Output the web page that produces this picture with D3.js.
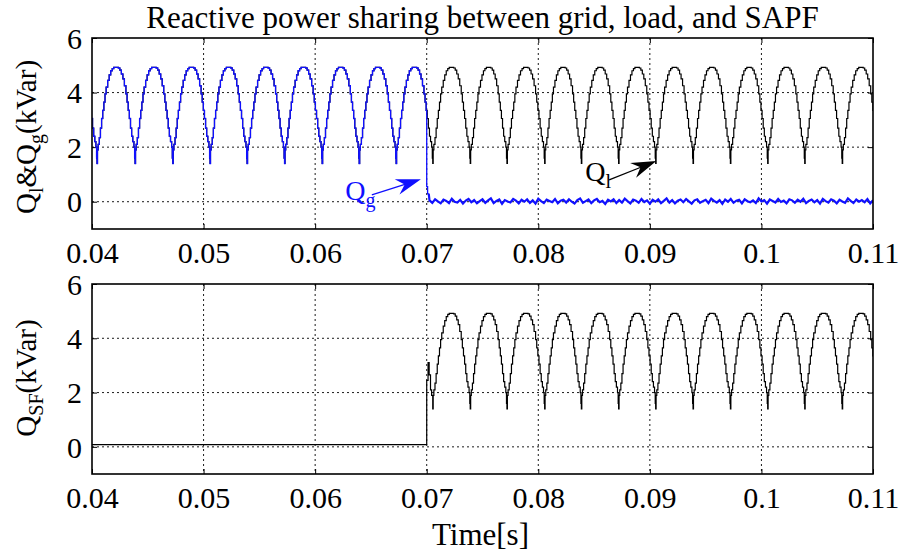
<!DOCTYPE html>
<html><head><meta charset="utf-8">
<script src="https://cdn.jsdelivr.net/npm/d3@7"></script>
<style>
body{margin:0;background:#fff}
svg{display:block}
text{font-family:"Liberation Serif","Times New Roman",serif;fill:#000}
</style>
</head><body>
<svg id="c" width="902" height="557"></svg>
<script>
// ---------- data ----------
const xTicks = [0.04, 0.05, 0.06, 0.07, 0.08, 0.09, 0.1, 0.11];
const xTickLabels = ["0.04", "0.05", "0.06", "0.07", "0.08", "0.09", "0.1", "0.11"];
const yTicks = [0, 2, 4, 6];
const yTickLabels = ["0", "2", "4", "6"];

// times of the load reactive power troughs (s)
const troughTimes = [0.03711, 0.04045, 0.04386, 0.04724, 0.05058, 0.05390, 0.05726, 0.06063, 0.06395,
  0.06726, 0.07054, 0.07390, 0.07719, 0.08057, 0.08386, 0.08720, 0.09052, 0.09387, 0.09722,
  0.10056, 0.10388, 0.10724];
// one ripple cycle of Q_l (fraction of cycle, kVar)
const cyclePhase = [0, 0.012, 0.03, 0.06, 0.09, 0.12, 0.15, 0.18, 0.21, 0.24, 0.28, 0.32, 0.36, 0.40,
  0.44, 0.48, 0.52, 0.56, 0.60, 0.64, 0.68, 0.72, 0.76, 0.79, 0.82, 0.85, 0.88, 0.91, 0.94, 0.97, 0.988];
const cycleValue = [1.4, 1.9, 2.1, 2.35, 2.7, 3.05, 3.35, 3.65, 3.95, 4.2, 4.45, 4.65, 4.8, 4.88,
  4.92, 4.92, 4.92, 4.9, 4.82, 4.68, 4.5, 4.25, 3.95, 3.65, 3.35, 3.05, 2.7, 2.4, 2.2, 2.0, 1.6];

const switchTime = 0.0700;
// grid reactive power right after compensation starts
const qgTransT = [0.0700, 0.0700, 0.07008, 0.07008, 0.07018];
const qgTransV = [3.36, 0.55, 0.55, 0.3, 0.3];
// residual grid reactive power ripple (kVar), 0.07025 .. 0.11 s
const qgNoiseStart = 0.07025, qgNoiseEnd = 0.11;
const qgNoise = [0.05,-0.04,0.09,0.01,-0.06,0.08,0.03,-0.05,0.11,0.0,-0.03,0.07,-0.07,0.04,0.1,-0.02,0.06,-0.06,0.02,0.09,
-0.04,0.05,0.12,-0.05,0.03,0.08,-0.08,0.06,0.01,-0.03,0.1,0.04,-0.06,0.07,0.0,0.09,-0.04,0.05,-0.07,0.11,
0.02,-0.05,0.08,0.03,-0.02,0.1,-0.06,0.04,0.07,-0.03,0.09,0.0,-0.07,0.06,0.12,-0.04,0.02,0.08,-0.05,0.05,
0.1,-0.02,0.03,-0.08,0.07,0.01,0.09,-0.05,0.06,-0.03,0.11,0.02,-0.06,0.08,0.04,-0.04,0.1,-0.01,0.05,-0.07,
0.07,0.0,0.09,-0.05,0.03,0.12,-0.03,0.06,-0.06,0.04,0.08,-0.02,0.1,0.01,-0.07,0.05,0.09,-0.04,0.02,0.07,
-0.05,0.11,0.03,-0.03,0.06,-0.08,0.08,0.0,0.1,-0.04,0.04,0.07,-0.06,0.09,0.02,-0.02,0.05,-0.05,0.12,0.01,
0.06,-0.07,0.08,0.03,-0.03,0.1,-0.01,0.04,-0.06,0.09,0.05,-0.04,0.07,0.0,0.11,-0.05,0.03,0.08,-0.02,0.06,
-0.07,0.1,0.02,-0.03,0.09,0.04,-0.06,0.07,0.01,-0.04,0.12,0.03,-0.05,0.08,0.0,0.06,-0.02,0.1,-0.06,0.05];
// SAPF reactive power
const qsfBefore = 0.08;
const qsfTransT = [0.0700, 0.0700, 0.07012, 0.07022, 0.07034, 0.07044];
const qsfTransV = [0.08, 2.45, 3.1, 2.65, 2.1, 1.9];
const qsfStartTrough = 0.07054;

// annotation anchors (data coords)
const qgArrow = {tail: [0.06508, 0.25], tip: [0.06948, 0.82], label: [0.06269, 0.06]};
const qlArrow = {tail: [0.08635, 0.80], tip: [0.09058, 1.49], label: [0.08422, 0.76]};

// ---------- build series ----------
const qlPts = [];
troughTimes.forEach((t0, i) => {
  const T = i < troughTimes.length - 1 ? troughTimes[i + 1] - t0 : t0 - troughTimes[i - 1];
  cyclePhase.forEach((p, j) => qlPts.push([t0 + p * T, cycleValue[j]]));
});
const qgPts = qlPts.filter(d => d[0] < switchTime)
  .concat(qgTransT.map((t, i) => [t, qgTransV[i]]))
  .concat(qgNoise.map((v, i) => [qgNoiseStart + i * (qgNoiseEnd - qgNoiseStart) / (qgNoise.length - 1), v]));
const qsfPts = [[0.04, qsfBefore]]
  .concat(qsfTransT.map((t, i) => [t, qsfTransV[i]]))
  .concat(qlPts.filter(d => d[0] >= qsfStartTrough - 1e-7));

// ---------- drawing ----------
const FONT = '"Liberation Serif","Times New Roman",serif';
const svg = d3.select("#c");
const L = 92, R = 873;
const x = d3.scaleLinear().domain([0.04, 0.11]).range([L, R]);
const panels = [
  {top: 38, bottom: 229},
  {top: 284, bottom: 474}
];
panels.forEach(p => p.y = d3.scaleLinear().domain([-1, 6]).range([p.bottom, p.top]));

function drawPanel(p, idx) {
  const g = svg.append("g");
  const cid = "clip" + idx;
  svg.append("clipPath").attr("id", cid).append("rect")
    .attr("x", L).attr("y", p.top).attr("width", R - L).attr("height", p.bottom - p.top);
  g.selectAll(".gx").data(xTicks.slice(1, -1)).join("line")
    .attr("x1", d => x(d)).attr("x2", d => x(d)).attr("y1", p.top).attr("y2", p.bottom)
    .attr("stroke", "#000").attr("stroke-width", 0.9).attr("stroke-dasharray", "2,3");
  g.selectAll(".gy").data(yTicks.slice(0, -1)).join("line")
    .attr("x1", L).attr("x2", R).attr("y1", d => p.y(d)).attr("y2", d => p.y(d))
    .attr("stroke", "#000").attr("stroke-width", 0.9).attr("stroke-dasharray", "2,3");
  const ax = g.append("g").attr("transform", `translate(0,${p.bottom})`)
    .call(d3.axisBottom(x).tickValues(xTicks).tickFormat((d, i) => xTickLabels[i]).tickSizeInner(-5).tickSizeOuter(0).tickPadding(13));
  const ay = g.append("g").attr("transform", `translate(${L},0)`)
    .call(d3.axisLeft(p.y).tickValues(yTicks).tickFormat((d, i) => yTickLabels[i]).tickSizeInner(-5).tickSizeOuter(0).tickPadding(10));
  const axT = g.append("g").attr("transform", `translate(0,${p.top})`)
    .call(d3.axisTop(x).tickValues(xTicks).tickFormat("").tickSizeInner(-5).tickSizeOuter(0));
  const ayR = g.append("g").attr("transform", `translate(${R},0)`)
    .call(d3.axisRight(p.y).tickValues(yTicks).tickFormat("").tickSizeInner(-5).tickSizeOuter(0));
  [ax, ay, axT, ayR].forEach(a => {
    a.attr("font-family", FONT).attr("font-size", 30);
    a.select(".domain").remove();
    a.selectAll("line").attr("stroke", "#000").attr("stroke-width", 1);
    a.selectAll("text").attr("font-family", FONT).attr("font-size", 30)
      .style("font-family", FONT).style("font-size", "30px").attr("fill", "#000");
  });
  ay.selectAll("text").attr("dy", "0.34em");
  return {g, cid};
}

const topPanel = drawPanel(panels[0], 0);
const botPanel = drawPanel(panels[1], 1);

const lineTop = d3.line().x(d => x(d[0])).y(d => panels[0].y(d[1])).curve(d3.curveStepAfter);
const lineBot = d3.line().x(d => x(d[0])).y(d => panels[1].y(d[1])).curve(d3.curveStepAfter);
const lineNoise = d3.line().x(d => x(d[0])).y(d => panels[0].y(d[1]));

const cTop = svg.append("g").attr("clip-path", `url(#${topPanel.cid})`);
cTop.append("path").attr("d", lineTop(qlPts)).attr("fill", "none").attr("stroke", "#000").attr("stroke-width", 1.2);
const qgMain = qgPts.filter(d => d[0] < qgNoiseStart);
const qgTail = qgPts.filter(d => d[0] >= qgNoiseStart - 1e-7);
cTop.append("path").attr("d", lineTop(qgMain)).attr("fill", "none").attr("stroke", "#1010ff").attr("stroke-width", 1.3);
cTop.append("path").attr("d", lineNoise([qgMain[qgMain.length - 1]].concat(qgTail))).attr("fill", "none").attr("stroke", "#1010ff").attr("stroke-width", 2.2);

const cBot = svg.append("g").attr("clip-path", `url(#${botPanel.cid})`);
cBot.append("path").attr("d", lineBot(qsfPts)).attr("fill", "none").attr("stroke", "#000").attr("stroke-width", 1.2);

panels.forEach(p => svg.append("rect").attr("x", L).attr("y", p.top).attr("width", R - L).attr("height", p.bottom - p.top)
  .attr("fill", "none").attr("stroke", "#000").attr("stroke-width", 1.6));

function arrow(a, color, yS) {
  const x0 = x(a.tail[0]), y0 = yS(a.tail[1]), x1 = x(a.tip[0]), y1 = yS(a.tip[1]);
  const ang = Math.atan2(y1 - y0, x1 - x0);
  svg.append("line").attr("x1", x0).attr("y1", y0).attr("x2", x1 - 16 * Math.cos(ang)).attr("y2", y1 - 16 * Math.sin(ang))
    .attr("stroke", color).attr("stroke-width", 1.3);
  svg.append("path").attr("d", "M0,0 L-25,-8 L-17,0 L-25,8 Z").attr("fill", color)
    .attr("transform", `translate(${x1},${y1}) rotate(${ang * 180 / Math.PI})`);
}
arrow(qgArrow, "#1010ff", panels[0].y);
arrow(qlArrow, "#000", panels[0].y);

function subLabel(xp, yp, main, sub, color) {
  const t = svg.append("text").attr("x", xp).attr("y", yp).style("font-size", "28px").style("fill", color);
  t.append("tspan").text(main);
  t.append("tspan").attr("dy", 7).style("font-size", "20px").text(sub);
}
subLabel(x(qgArrow.label[0]), panels[0].y(qgArrow.label[1]), "Q", "g", "#1010ff");
subLabel(x(qlArrow.label[0]), panels[0].y(qlArrow.label[1]), "Q", "l", "#000");

svg.append("text").attr("x", (L + R) / 2).attr("y", 28).attr("text-anchor", "middle")
  .style("font-size", "31px").text("Reactive power sharing between grid, load, and SAPF");
svg.append("text").attr("x", (L + R) / 2 - 2).attr("y", 545).attr("text-anchor", "middle")
  .style("font-size", "31px").text("Time[s]");

function yLabel(cy, parts) {
  const t = svg.append("text").attr("transform", `translate(36,${cy}) rotate(-90)`).attr("text-anchor", "middle").style("font-size", "29px");
  parts.forEach(pt => {
    const s = t.append("tspan").text(pt.t);
    if (pt.sub) s.attr("dy", 7).style("font-size", "20px");
    else if (pt.after) s.attr("dy", -7);
  });
}
yLabel(137, [{t: "Q"}, {t: "l", sub: true}, {t: "&Q", after: true}, {t: "g", sub: true}, {t: "(kVar)", after: true}]);
yLabel(378, [{t: "Q"}, {t: "SF", sub: true}, {t: "(kVar)", after: true}]);
</script>
</body></html>
